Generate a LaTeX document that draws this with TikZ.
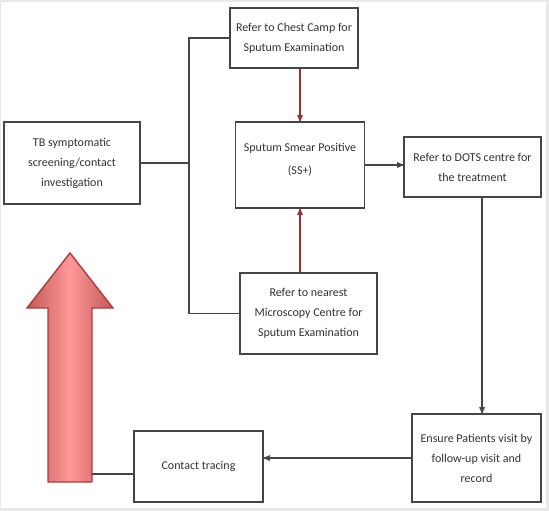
\documentclass[tikz,border=0pt]{standalone}
\usepackage{fontspec}
\setmainfont{Carlito}
\usepackage{tikz}
\usetikzlibrary{
        arrows,
        positioning,
        shapes
    }
\definecolor{boxgray}{HTML}{454545}
\definecolor{txtgray}{HTML}{333333}
\definecolor{darkred}{HTML}{8E3434}
\definecolor{bigred}{HTML}{BE4444}
\tikzset{>=stealth',auto,node distance=2cm}
\tikzset{box/.style={draw=boxgray,line width=1.1pt,align=center,text=txtgray,
        font=\fontsize{12}{20}\selectfont,inner sep=2pt}}
\tikzset{link/.style={draw=boxgray,line width=1.3pt}}

\begin{document}
\begin{tikzpicture}[x=1pt,y=-1pt,>=stealth',shorten >=0pt]
                % frame
                \fill[gray!18] (0,0) rectangle (549,511);
                \fill[white] (1,2) rectangle (545.5,508);
                \useasboundingbox (0,0) rectangle (549,511);
                \node[box,minimum width=136pt,minimum height=82pt] (tb) at (72,163)
                    {TB symptomatic\\screening/contact\\investigation};
                \node[box,minimum width=128pt,minimum height=60pt] (chest) at (294,38)
                    {Refer to Chest Camp for\\Sputum Examination};
                \node[box,minimum width=129pt,minimum height=86pt] (smear) at (300,165)
                    {Sputum Smear Positive\\[3pt](SS+)\\[-8pt]};
                \node[box,minimum width=137pt,minimum height=81pt] (micro) at (308.5,313.5)
                    {Refer to nearest\\Microscopy Centre for\\Sputum Examination};
                \node[box,minimum width=137pt,minimum height=60pt] (dots) at (472.5,167)
                    {Refer to DOTS centre for\\the treatment};
                \node[box,minimum width=129pt,minimum height=88pt] (ensure) at (476.5,458)
                    {Ensure Patients visit by\\follow-up visit and\\record};
                \node[box,minimum width=129pt,minimum height=71pt] (contact) at (198.5,466.5)
                    {Contact tracing};
                % big arrow back to screening
                \coordinate (shaftR) at (92,474);
                \shade[left color=bigred!90,right color=bigred!90,middle color=red!40,draw=bigred!90!black,line width=1.4pt]
                    (48,482) -- (48,308) -- (27,308) -- (70,253) -- (113,308) -- (92,308) -- (92,482) -- cycle;
                % connectors
                \coordinate (split) at (189,163);
                \draw[link] (tb.east) -- (split);
                \draw[link] (chest.west) -| (split) |- (micro.west);
                \draw[link,->,draw=darkred] (smear.north |- chest.south) -- (smear.north);
                \draw[link,->,draw=darkred] (smear.south |- micro.north) -- (smear.south);
                \draw[link,->] (smear.east) -- (smear.east -| dots.west);
                \draw[link,->] ([xshift=9.5pt]dots.south) -- ([xshift=9.5pt]dots.south |- ensure.north);
                \draw[link,->] (ensure.west) -- (ensure.west -| contact.east);
                \draw[link] ([yshift=-7.5pt]contact.west) -- (shaftR);
            \end{tikzpicture}
\end{document}
